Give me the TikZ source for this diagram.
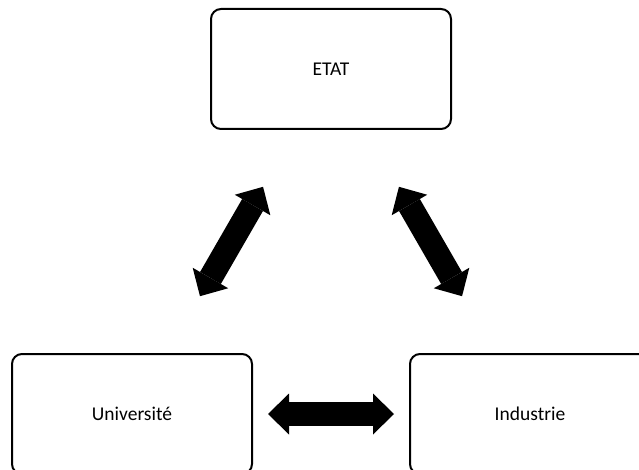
\documentclass[tikz,border=0pt]{standalone}
\usepackage{fontspec}
\setmainfont{Carlito}
\usetikzlibrary{arrows.meta}

\tikzset{
  actor/.style={draw=black, line width=2pt, rounded corners=10pt, fill=white,
    minimum width=240pt, minimum height=120pt, inner sep=0pt,
    font=\fontsize{19.5pt}{23pt}\selectfont},
  blockhead/.tip={Triangle[width=41pt, length=21pt, line width=0pt]},
  exchange/.style={draw=black, line width=24pt, line cap=butt,
    blockhead-blockhead, shorten <=136pt, shorten >=136pt}
}

\begin{document}
\begin{tikzpicture}[x=1pt, y=-1pt]
  \useasboundingbox (0,0) rectangle (639,470);
  \clip (0,0) rectangle (639,470);

  % the three partners
  \node[actor] (etat) at (331,69)  {ETAT};
  \node[actor] (univ) at (132,414) {Université};
  \node[actor] (indus) at (530,414) {Industrie};

  % two-way exchanges between partners
  \draw[exchange] (univ.center) -- (etat.center);
  \draw[exchange] (indus.center) -- (etat.center);
  \draw[exchange] (univ.center) -- (indus.center);
\end{tikzpicture}
\end{document}
